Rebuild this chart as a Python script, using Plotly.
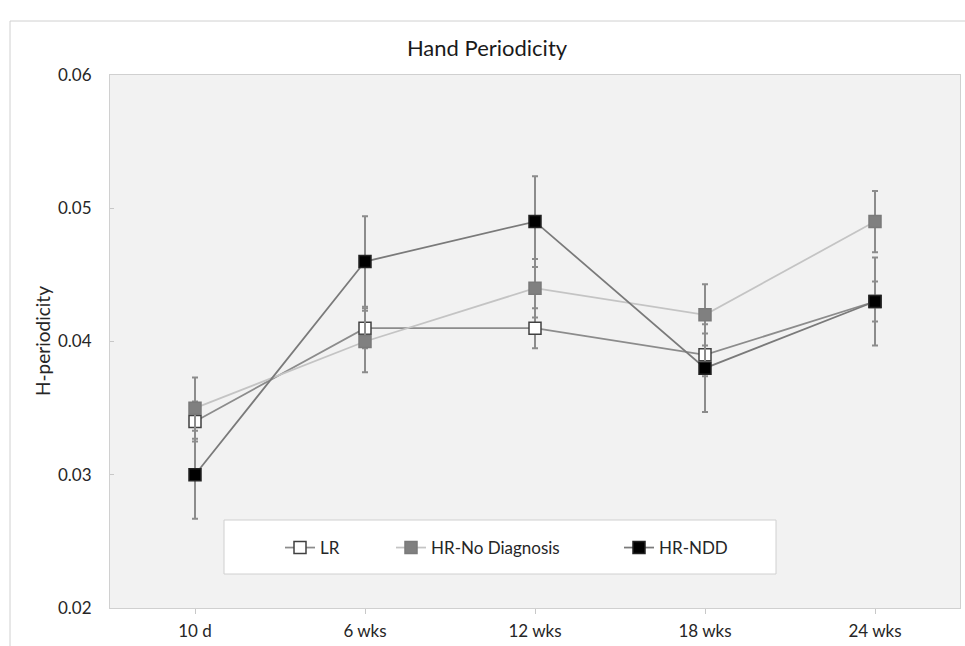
import plotly.graph_objects as go

categories = ["10 d", "6 wks", "12 wks", "18 wks", "24 wks"]

lr_values = [0.034, 0.041, 0.041, 0.039, 0.043]
lr_err = [0.0015, 0.0015, 0.0015, 0.0016, 0.0015]

hrnd_values = [0.035, 0.040, 0.044, 0.042, 0.049]
hrnd_err = [0.0023, 0.0023, 0.0022, 0.0023, 0.0023]

ndd_values = [0.030, 0.046, 0.049, 0.038, 0.043]
ndd_err = [0.0033, 0.0034, 0.0034, 0.0033, 0.0033]

y_ticks = [0.02, 0.03, 0.04, 0.05, 0.06]

W, H = 965, 646
ML, MR, MT, MB = 110, 5, 75, 38
PW, PH = W - ML - MR, H - MT - MB


def px_x(px):
    return (px - ML) / PW


def px_y(py):
    return (H - MB - py) / PH


FONT = "Lato"
TXT = "#262626"
ERR = "#8c8c8c"

fig = go.Figure()

fig.add_trace(go.Scatter(
    x=categories, y=lr_values, name="LR", mode="lines+markers",
    line=dict(color="#8c8c8c", width=1.75),
    marker=dict(symbol="square", size=12, color="white",
                line=dict(color="#404040", width=1.5)),
    error_y=dict(type="data", array=lr_err, color=ERR, thickness=2, width=3),
    legend="legend",
))
fig.add_trace(go.Scatter(
    x=categories, y=hrnd_values, name="HR-No Diagnosis", mode="lines+markers",
    line=dict(color="#c4c4c4", width=1.75),
    marker=dict(symbol="square", size=12, color="#808080",
                line=dict(color="#7a7a7a", width=1.5)),
    error_y=dict(type="data", array=hrnd_err, color=ERR, thickness=2, width=3),
    legend="legend2",
))
fig.add_trace(go.Scatter(
    x=categories, y=ndd_values, name="HR-NDD", mode="lines+markers",
    line=dict(color="#7a7a7a", width=1.75),
    marker=dict(symbol="square", size=12, color="black",
                line=dict(color="#222222", width=1.5)),
    error_y=dict(type="data", array=ndd_err, color=ERR, thickness=2, width=3),
    legend="legend3",
))

leg_common = dict(orientation="h", yanchor="middle", xanchor="left",
                  bgcolor="rgba(0,0,0,0)", borderwidth=0,
                  font=dict(family=FONT, size=17, color=TXT))

fig.update_layout(
    width=W, height=H,
    margin=dict(l=ML, r=MR, t=MT, b=MB),
    paper_bgcolor="white",
    plot_bgcolor="#f2f2f2",
    font=dict(family=FONT, size=17, color=TXT),
    title=dict(text="Hand Periodicity", x=487 / W, xanchor="center",
               y=1 - 48 / H, yanchor="middle", yref="container",
               font=dict(family=FONT, size=22, color="#1a1a1a")),
    showlegend=True,
    legend=dict(x=px_x(280), y=px_y(548), **leg_common),
    legend2=dict(x=px_x(391), y=px_y(548), **leg_common),
    legend3=dict(x=px_x(619), y=px_y(548), **leg_common),
    xaxis=dict(type="category", categoryarray=categories, range=[-0.5, 4.5],
               showgrid=False, zeroline=False,
               showline=True, linecolor="#d0d0d0", linewidth=1, mirror=True,
               ticks="outside", ticklen=5, tickcolor="#c8c8c8",
               ticklabelstandoff=3,
               tickfont=dict(family=FONT, size=17, color=TXT)),
    yaxis=dict(range=[0.02, 0.06], tickvals=y_ticks, tickformat=".2f",
               showgrid=False, zeroline=False,
               showline=True, linecolor="#d0d0d0", linewidth=1, mirror=True,
               ticks="inside", ticklen=4, tickcolor="#c8c8c8",
               ticklabelstandoff=14,
               tickfont=dict(family=FONT, size=17, color=TXT)),
    annotations=[dict(text="H-periodicity", textangle=-90, showarrow=False,
                      xref="paper", yref="paper", x=px_x(42), y=px_y(341),
                      xanchor="center", yanchor="middle",
                      font=dict(family=FONT, size=19, color=TXT))],
    shapes=[
        # outer chart frame (top and left edges)
        dict(type="line", xref="paper", yref="paper",
             x0=px_x(10), x1=px_x(965), y0=px_y(21), y1=px_y(21),
             line=dict(color="#d0d0d0", width=1)),
        dict(type="line", xref="paper", yref="paper",
             x0=px_x(10), x1=px_x(10), y0=px_y(21), y1=px_y(646),
             line=dict(color="#d0d0d0", width=1)),
        # legend box
        dict(type="rect", xref="paper", yref="paper",
             x0=px_x(224), x1=px_x(776), y0=px_y(520), y1=px_y(574),
             fillcolor="white", line=dict(color="#d0d0d0", width=1),
             layer="below"),
    ],
)

fig.write_html("out.html")
